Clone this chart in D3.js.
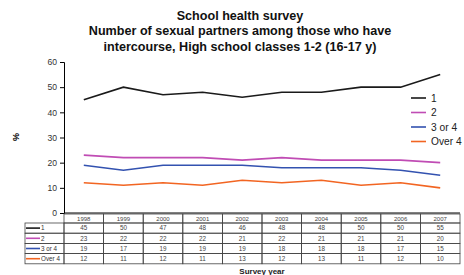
<!DOCTYPE html>
<html><head><meta charset="utf-8">
<script src="https://cdn.jsdelivr.net/npm/d3@7"></script>
<style>body{margin:0;background:#fff}svg{display:block}text{font-family:"Liberation Sans",Arial,sans-serif}</style>
</head><body>
<script>
const years = ["1998","1999","2000","2001","2002","2003","2004","2005","2006","2007"];
const seriesNames = ["1","2","3 or 4","Over 4"];
const s1 = [45,50,47,48,46,48,48,50,50,55];
const s2 = [23,22,22,22,21,22,21,21,21,20];
const s3 = [19,17,19,19,19,18,18,18,17,15];
const s4 = [12,11,12,11,13,12,13,11,12,10];
const colors = ["#1a1a1a","#c04cb4","#3352b0","#f26522"];
const yTicks = [0,10,20,30,40,50,60];
const titleLines = ["School health survey","Number of sexual partners among those who have","intercourse, High school classes 1-2 (16-17 y)"];

(function(){
const W=464,H=275;
const svg=d3.select("body").append("svg").attr("width",W).attr("height",H);
const pL=64,pR=460,pT=62,pB=213;
const x=d3.scaleBand().domain(years).range([pL,pR]);
const y=d3.scaleLinear().domain([0,60]).range([pB,pT]);
const data=[s1,s2,s3,s4];

svg.selectAll("text.title").data(titleLines).enter().append("text")
 .attr("x",240).attr("y",(d,i)=>19.5+i*15.5).attr("text-anchor","middle")
 .attr("font-size",12.6).attr("font-weight","bold").attr("fill","#111").text(d=>d);

const ya=svg.append("g").attr("transform",`translate(${pL},0)`)
 .call(d3.axisLeft(y).tickValues(yTicks).tickSize(4).tickPadding(3));
ya.select(".domain").attr("stroke","#000");
ya.selectAll("text").attr("font-size",8.6).attr("fill","#333").style("font-family","Liberation Sans, Arial");
svg.append("line").attr("x1",pL).attr("x2",pR).attr("y1",pB).attr("y2",pB).attr("stroke","#000");

svg.append("text").attr("transform","translate(19,137) rotate(-90)").attr("text-anchor","middle")
 .attr("font-size",9).attr("font-weight","bold").text("%");

const line=d3.line().x((d,i)=>x(years[i])+x.bandwidth()/2).y(d=>y(d));
data.forEach((s,k)=>{
 svg.append("path").attr("d",line(s)).attr("fill","none").attr("stroke",colors[k]).attr("stroke-width",1.6);
});

seriesNames.forEach((n,k)=>{
 const ly=98+k*14.5;
 svg.append("line").attr("x1",411).attr("x2",426).attr("y1",ly).attr("y2",ly).attr("stroke",colors[k]).attr("stroke-width",1.6);
 svg.append("text").attr("x",431).attr("y",ly+3.6).attr("font-size",10.2).attr("fill","#222").text(n);
});

const hTop=214,hH=9,rH=10.2,labL=25;
const tb=svg.append("g");
tb.selectAll("rect.h").data(years).enter().append("rect")
 .attr("x",d=>x(d)).attr("y",hTop).attr("width",x.bandwidth()).attr("height",hH)
 .attr("fill","none").attr("stroke","#444").attr("stroke-width",0.8);
tb.selectAll("text.h").data(years).enter().append("text")
 .attr("x",d=>x(d)+x.bandwidth()/2).attr("y",hTop+6.8).attr("text-anchor","middle")
 .attr("font-size",6).attr("fill","#444").text(d=>d);
data.forEach((s,k)=>{
 const ry=hTop+hH+k*rH;
 tb.append("rect").attr("x",labL).attr("y",ry).attr("width",pL-labL).attr("height",rH)
  .attr("fill","none").attr("stroke","#444").attr("stroke-width",0.8);
 tb.append("line").attr("x1",labL+1).attr("x2",labL+15).attr("y1",ry+rH/2).attr("y2",ry+rH/2)
  .attr("stroke",colors[k]).attr("stroke-width",1.6);
 tb.append("text").attr("x",labL+16).attr("y",ry+rH/2+2.3).attr("font-size",6.3).attr("fill","#333").text(seriesNames[k]);
 tb.selectAll(null).data(s).enter().append("rect")
  .attr("x",(d,i)=>x(years[i])).attr("y",ry).attr("width",x.bandwidth()).attr("height",rH)
  .attr("fill","none").attr("stroke","#444").attr("stroke-width",0.8);
 tb.selectAll(null).data(s).enter().append("text")
  .attr("x",(d,i)=>x(years[i])+x.bandwidth()/2).attr("y",ry+rH/2+2.3).attr("text-anchor","middle")
  .attr("font-size",6.3).attr("fill","#444").text(d=>d);
});
svg.append("text").attr("x",262).attr("y",273.5).attr("text-anchor","middle")
 .attr("font-size",8).attr("font-weight","bold").attr("fill","#222").text("Survey year");
})();
</script>
</body></html>
